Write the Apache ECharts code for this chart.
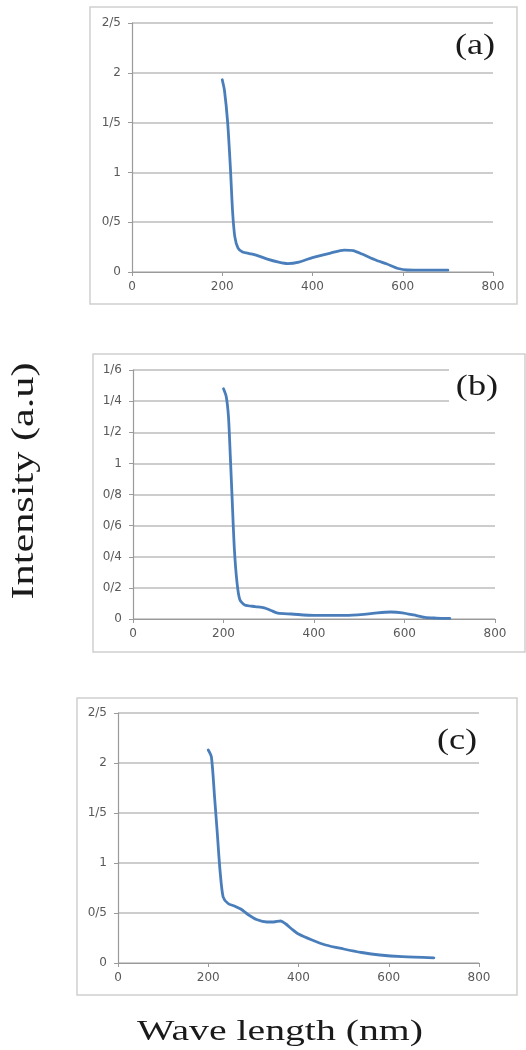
<!DOCTYPE html>
<html>
<head>
<meta charset="utf-8">
<script src="https://cdn.jsdelivr.net/npm/echarts@6/dist/echarts.min.js"></script>
<style>
  html, body { margin: 0; padding: 0; background: #fff; }
  #chart { width: 526px; height: 1050px; }
</style>
</head>
<body>
<div id="chart"></div>
<script>
// Absorption spectra of three samples, (a), (b), (c)

// Wavelength ticks shared by all three panels
const xTickLabels = ['0', '200', '400', '600', '800'];

// Panel (a)
const waveA = [200, 205, 212, 218, 223, 228, 235, 245, 260, 275, 300, 325, 345, 370, 400, 440, 470, 490, 510, 540, 565, 590, 610, 650, 700];
const intensityA = [1.93, 1.82, 1.5, 1.05, 0.6, 0.35, 0.24, 0.2, 0.185, 0.17, 0.13, 0.1, 0.085, 0.1, 0.145, 0.19, 0.22, 0.215, 0.18, 0.12, 0.08, 0.035, 0.02, 0.018, 0.018];
const yLabelsA = ['0', '0/5', '1', '1/5', '2', '2/5'];

// Panel (b)
const waveB = [200, 206, 211, 215, 219, 224, 230, 236, 247, 270, 290, 305, 320, 350, 400, 470, 510, 540, 570, 595, 620, 645, 670, 700];
const intensityB = [1.48, 1.43, 1.3, 1.05, 0.78, 0.45, 0.23, 0.125, 0.09, 0.08, 0.072, 0.055, 0.037, 0.032, 0.023, 0.023, 0.03, 0.04, 0.045, 0.04, 0.026, 0.01, 0.006, 0.004];
const yLabelsB = ['0', '0/2', '0/4', '0/6', '0/8', '1', '1/2', '1/4', '1/6'];

// Panel (c)
const waveC = [200, 207, 214, 220, 226, 233, 244, 258, 272, 288, 307, 330, 345, 360, 372, 385, 400, 430, 460, 500, 540, 580, 630, 700];
const intensityC = [2.13, 2.06, 1.66, 1.3, 0.93, 0.66, 0.595, 0.57, 0.54, 0.485, 0.435, 0.41, 0.41, 0.42, 0.39, 0.34, 0.29, 0.23, 0.18, 0.14, 0.105, 0.08, 0.063, 0.052];
const yLabelsC = ['0', '0/5', '1', '1/5', '2', '2/5'];

const panelLetters = ['(a)', '(b)', '(c)'];
const yAxisTitle = 'Intensity (a.u)';
const xAxisTitle = 'Wave length (nm)';

const LINE_COLOR = '#4a7ebb';
const GRID_COLOR = '#bdbdbd';
const AXIS_COLOR = '#9a9a9a';
const LABEL_COLOR = '#595959';
const SERIF = '"Liberation Serif", "DejaVu Serif", serif';
const TICK_FONT = '"DejaVu Sans", sans-serif';

const panels = [
  { wave: waveA, vals: intensityA, yLabels: yLabelsA, step: 0.5,
    grid: { left: 132, top: 23, width: 361, height: 249 },
    frame: { x: 90, y: 7, w: 427, h: 297 },
    letter: { x: 475, y: 46 } },
  { wave: waveB, vals: intensityB, yLabels: yLabelsB, step: 0.2,
    grid: { left: 133, top: 370, width: 362, height: 249 },
    frame: { x: 93, y: 354, w: 432, h: 298 },
    letter: { x: 477, y: 387 }, mask: { x: 449, y: 362, w: 52, h: 46 } },
  { wave: waveC, vals: intensityC, yLabels: yLabelsC, step: 0.5,
    grid: { left: 118, top: 713, width: 361, height: 250 },
    frame: { x: 77, y: 698, w: 440, h: 297 },
    letter: { x: 457, y: 741 } }
];

const grids = [], xAxes = [], yAxes = [], series = [], graphics = [];

panels.forEach((p, i) => {
  grids.push(Object.assign({ containLabel: false }, p.grid));
  xAxes.push({
    type: 'value', gridIndex: i, min: 0, max: 800, interval: 200,
    axisLine: { show: true, lineStyle: { color: AXIS_COLOR, width: 1.2 } },
    axisTick: { show: true, length: 4, lineStyle: { color: AXIS_COLOR } },
    splitLine: { show: false },
    axisLabel: {
      color: LABEL_COLOR, fontSize: 12, fontFamily: TICK_FONT, margin: 9,
      formatter: v => xTickLabels[Math.round(v / 200)]
    }
  });
  yAxes.push({
    type: 'value', gridIndex: i, min: 0,
    max: p.step * (p.yLabels.length - 1), interval: p.step,
    axisLine: { show: true, lineStyle: { color: AXIS_COLOR, width: 1.2 } },
    axisTick: { show: true, length: 4, lineStyle: { color: AXIS_COLOR } },
    splitLine: { show: true, lineStyle: { color: GRID_COLOR, width: 1.5 } },
    axisLabel: {
      color: LABEL_COLOR, fontSize: 12, fontFamily: TICK_FONT, margin: 11,
      formatter: v => p.yLabels[Math.round(v / p.step)]
    }
  });
  series.push({
    type: 'line', xAxisIndex: i, yAxisIndex: i,
    data: p.wave.map((w, k) => [w, p.vals[k]]),
    showSymbol: false, smooth: 0.25,
    lineStyle: { color: LINE_COLOR, width: 2.8, cap: 'round', join: 'round' }
  });

  // Outer frame around each panel
  graphics.push({
    type: 'rect', z: 0, silent: true,
    shape: { x: p.frame.x, y: p.frame.y, width: p.frame.w, height: p.frame.h },
    style: { fill: null, stroke: '#cfcfcf', lineWidth: 1.5 }
  });
  if (p.mask) {
    graphics.push({
      type: 'rect', z: 20, silent: true,
      shape: { x: p.mask.x, y: p.mask.y, width: p.mask.w, height: p.mask.h },
      style: { fill: '#ffffff' }
    });
  }
  graphics.push({
    type: 'text', z: 30, silent: true,
    x: p.letter.x, y: p.letter.y, scaleX: 1.25,
    style: {
      text: panelLetters[i], font: '29px ' + SERIF, fill: '#1a1a1a',
      textAlign: 'center', textVerticalAlign: 'middle'
    }
  });
});

// Shared axis titles
graphics.push({
  type: 'text', z: 30, silent: true,
  x: 25, y: 481, rotation: Math.PI / 2, scaleX: 1.32,
  style: {
    text: yAxisTitle, font: '32px ' + SERIF, fill: '#1a1a1a',
    textAlign: 'center', textVerticalAlign: 'middle'
  }
});
graphics.push({
  type: 'text', z: 30, silent: true,
  x: 280, y: 1032, scaleX: 1.37,
  style: {
    text: xAxisTitle, font: '29px ' + SERIF, fill: '#1a1a1a',
    textAlign: 'center', textVerticalAlign: 'middle'
  }
});

const chart = echarts.init(document.getElementById('chart'), null, { renderer: 'canvas' });
chart.setOption({
  animation: false,
  backgroundColor: '#ffffff',
  grid: grids,
  xAxis: xAxes,
  yAxis: yAxes,
  series: series,
  graphic: graphics
});
</script>
</body>
</html>
